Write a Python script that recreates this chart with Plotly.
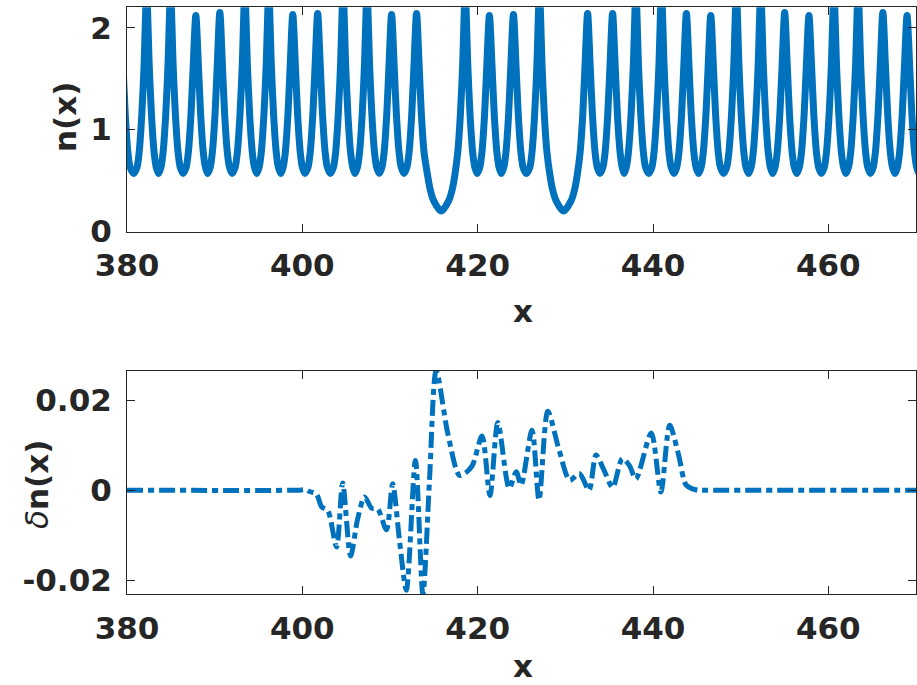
import plotly.graph_objects as go

# ---------------- top panel: n(x) key points ----------------
peak_x = [379.25, 382.24, 384.97, 387.85, 390.59, 393.44, 396.17, 398.91, 401.75, 404.65,
          407.38, 410.18, 413.03, 418.58, 421.34, 424.08, 427.05, 432.54, 435.39, 438.05,
          440.97, 443.81, 446.59, 449.51, 452.29, 455.02, 457.79, 460.64, 463.40, 466.22,
          468.98, 471.75]
peak_n = [2.13, 2.35, 2.35, 2.12, 2.15, 2.35, 2.35, 2.13, 2.14, 2.35,
          2.35, 2.13, 2.14, 2.35, 2.12, 2.13, 2.35, 2.14, 2.14, 2.35,
          2.35, 2.14, 2.12, 2.35, 2.35, 2.15, 2.12, 2.35, 2.35, 2.15,
          2.12, 2.35]
# flank shape of a peak (distance from the peak top, value)
flank_dx = [0.30, 0.55, 0.85, 1.10]
flank_n = [1.62, 1.15, 0.78, 0.63]
# ordinary minima between neighbouring peaks
trough_x = [380.75, 383.60, 386.40, 389.20, 392.00, 394.80, 397.55, 400.30, 403.20, 406.00,
            408.78, 411.60, 419.95, 422.70, 425.55, 433.95, 436.72, 439.50, 442.40, 445.20,
            448.05, 450.90, 453.65, 456.40, 459.20, 462.00, 464.80, 467.60, 470.35]
trough_n = [0.57, 0.57, 0.57, 0.57, 0.57, 0.57, 0.57, 0.57, 0.57, 0.57,
            0.57, 0.57, 0.57, 0.57, 0.57, 0.57, 0.57, 0.57, 0.57, 0.57,
            0.57, 0.57, 0.57, 0.57, 0.57, 0.57, 0.57, 0.57, 0.57]
# the two deep minima (missing peaks)
dip_x = [415.84, 429.80]
dip_dx = [-1.55, -1.25, -0.85, 0.0, 0.85, 1.25, 1.55]
dip_n = [0.55, 0.41, 0.30, 0.20, 0.30, 0.41, 0.55]

# ---------------- bottom panel: delta n(x) ----------------
dn_x = [380.0, 399.7, 400.4, 400.8, 401.6, 402.2, 402.9, 403.9, 404.6, 405.5,
        406.3, 407.1, 407.9, 408.6, 409.6, 410.3, 411.1, 411.86, 412.9, 413.75,
        414.5, 415.27, 416.6, 417.9, 418.6, 419.4, 420.5, 421.4, 422.3, 423.6,
        424.4, 424.95, 426.2, 427.0, 428.0, 429.3, 430.5, 431.6, 432.7, 433.5,
        434.4, 435.4, 436.5, 437.3, 438.05, 439.8, 440.9, 441.9, 442.9, 443.75,
        444.5, 445.3, 446.6, 470.0]
dn_y = [0.0, 0.0, 0.0001, -0.0003, -0.0008, -0.0037, -0.0045, -0.0126, 0.0016, -0.0146,
        -0.0065, -0.0015, -0.0040, -0.0042, -0.0088, 0.0014, -0.0115, -0.0222, 0.0066, -0.0231,
        0.0020, 0.0265, 0.0125, 0.0033, 0.0038, 0.0055, 0.0120, -0.0012, 0.0150, 0.0004,
        0.0041, 0.0011, 0.0133, -0.0022, 0.0175, 0.0088, 0.0022, 0.0037, 0.0000, 0.0078,
        0.0045, 0.0006, 0.0070, 0.0055, 0.0025, 0.0127, -0.0004, 0.0144, 0.0080, 0.0012,
        0.0003, 0.0, 0.0, 0.0]

x_ticks = [380, 400, 420, 440, 460]
n_ticks = [0, 1, 2]
dn_ticks = [-0.02, 0, 0.02]
dn_ticktext = ["-0.02", "0", "0.02"]

# ---- assemble the top curve from the key points ----
pts = []
for p, h in zip(peak_x, peak_n):
    pts.append((p, h))
    for side in (-1, 1):
        near_dip = any(0 < side * (d - p) < 3.2 for d in dip_x)
        for k, (dx, fn) in enumerate(zip(flank_dx, flank_n)):
            if near_dip and k == len(flank_dx) - 1:
                continue
            pts.append((p + side * dx, fn))
pts += list(zip(trough_x, trough_n))
for d in dip_x:
    pts += [(d + o, v) for o, v in zip(dip_dx, dip_n)]
pts.sort()
n_x = [q[0] for q in pts]
n_y = [q[1] for q in pts]

BLUE = "#0072BD"
AX = "#262626"
FONT = "DejaVu Sans"
W, H = 917, 685

fig = go.Figure()
fig.add_trace(go.Scatter(x=n_x, y=n_y, mode="lines", xaxis="x", yaxis="y",
                         line=dict(color=BLUE, width=7, shape="spline", smoothing=0.8),
                         showlegend=False))
fig.add_trace(go.Scatter(x=dn_x, y=dn_y, mode="lines", xaxis="x2", yaxis="y2",
                         line=dict(color=BLUE, width=5, shape="spline", smoothing=0.8,
                                   dash="16px,5px,6px,5px"),
                         showlegend=False))

xdom = [127 / W, 916 / W]
axis_common = dict(showline=True, linecolor=AX, linewidth=1, mirror="ticks",
                   ticks="inside", ticklen=8, tickcolor=AX, showgrid=False, zeroline=False,
                   automargin=False,
                   tickfont=dict(family=FONT, size=31, color=AX, weight="bold"))

fig.update_layout(
    width=W, height=H,
    margin=dict(l=0, r=0, t=0, b=0, pad=0),
    paper_bgcolor="white", plot_bgcolor="white",
    xaxis=dict(domain=xdom, range=[380, 470], anchor="y", tickvals=x_ticks,
               ticklabelstandoff=6, **axis_common),
    yaxis=dict(domain=[1 - 231.5 / H, 1 - 7.3 / H], range=[0, 2.2], anchor="x",
               tickvals=n_ticks, ticklabelstandoff=8, **axis_common),
    xaxis2=dict(domain=xdom, range=[380, 470], anchor="y2", tickvals=x_ticks,
                ticklabelstandoff=6, **axis_common),
    yaxis2=dict(domain=[1 - 594.3 / H, 1 - 370.7 / H], range=[-0.0231, 0.0265], anchor="x2",
                tickvals=dn_ticks, ticktext=dn_ticktext, ticklabelstandoff=8, **axis_common),
)

title_font = dict(family=FONT, size=31, color=AX)
fig.add_annotation(text="<b>x</b>", x=523 / W, y=1 - 311 / H, xref="paper", yref="paper",
                   showarrow=False, xanchor="center", yanchor="middle", font=title_font)
fig.add_annotation(text="<b>x</b>", x=523 / W, y=0.0, xref="paper", yref="paper",
                   showarrow=False, xanchor="center", yanchor="bottom", borderpad=0,
                   font=title_font)
fig.add_annotation(text="<b>n(x)</b>", x=65 / W, y=1 - 117 / H, xref="paper", yref="paper",
                   showarrow=False, xanchor="center", yanchor="middle", textangle=-90,
                   font=title_font)
fig.add_annotation(text="<i>δ</i><b>n(x)</b>", x=37 / W, y=1 - 485 / H, xref="paper",
                   yref="paper", showarrow=False, xanchor="center", yanchor="middle",
                   textangle=-90, font=title_font)

fig.write_html("out.html", config={"displayModeBar": False},
               post_script="document.body.style.margin='0px';"
                           "document.body.style.overflow='hidden';")
